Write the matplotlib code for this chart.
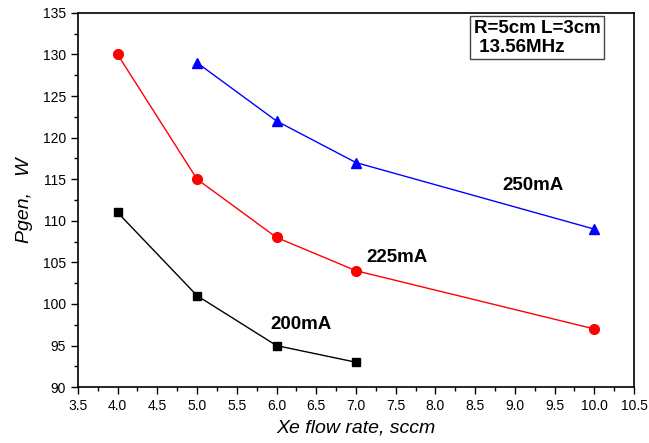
import matplotlib
matplotlib.use("Agg")
import matplotlib.pyplot as plt
from matplotlib.ticker import MultipleLocator

plt.rcParams['font.family'] = ['Liberation Sans', 'DejaVu Sans']

x200 = [4, 5, 6, 7]
y200 = [111, 101, 95, 93]
x225 = [4, 5, 6, 7, 10]
y225 = [130, 115, 108, 104, 97]
x250 = [5, 6, 7, 10]
y250 = [129, 122, 117, 109]
xticks = [3.5, 4.0, 4.5, 5.0, 5.5, 6.0, 6.5, 7.0, 7.5, 8.0, 8.5, 9.0, 9.5, 10.0, 10.5]
yticks = [90, 95, 100, 105, 110, 115, 120, 125, 130, 135]

fig = plt.figure(figsize=(6.49, 4.43), dpi=100)
ax = fig.add_axes([0.120, 0.126, 0.857, 0.845])

ax.plot(x200, y200, color='black', marker='s', ms=6, lw=1)
ax.plot(x225, y225, color='red', marker='o', ms=7, lw=1)
ax.plot(x250, y250, color='blue', marker='^', ms=7, lw=1)

ax.set_xlim(3.5, 10.5)
ax.set_ylim(90, 135)
ax.set_xticks(xticks)
ax.set_xticklabels([f"{v:.1f}" for v in xticks])
ax.set_yticks(yticks)
ax.xaxis.set_minor_locator(MultipleLocator(0.25))
ax.yaxis.set_minor_locator(MultipleLocator(2.5))
ax.tick_params(which='major', direction='out', length=5, width=1, labelsize=10, top=False, right=False)
ax.tick_params(which='minor', direction='out', length=3, width=1, top=False, right=False)
for s in ax.spines.values():
    s.set_linewidth(1.2)

ax.set_xlabel('Xe flow rate, sccm', fontsize=14, style='italic', labelpad=5)
ax.set_ylabel('Pgen,   W', fontsize=14, style='italic', labelpad=7)

ax.text(9.23, 114.3, '250mA', fontsize=13.5, fontweight='bold', ha='center', va='center')
ax.text(7.52, 105.6, '225mA', fontsize=13.5, fontweight='bold', ha='center', va='center')
ax.text(6.31, 97.5, '200mA', fontsize=13.5, fontweight='bold', ha='center', va='center')

ax.text(0.712, 0.982, 'R=5cm L=3cm\n 13.56MHz', transform=ax.transAxes, fontsize=13.5,
        fontweight='bold', ha='left', va='top', linespacing=1.15,
        bbox=dict(boxstyle='square,pad=0.2', fc='white', ec='#444444', lw=1))

fig.savefig('out.png', dpi=100)
